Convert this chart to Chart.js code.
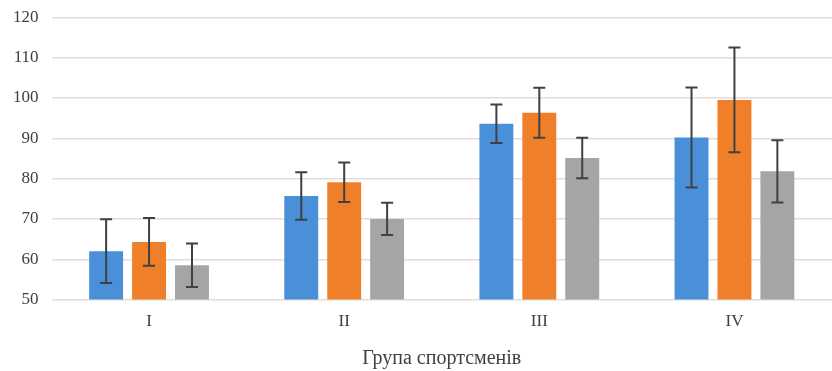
<!DOCTYPE html>
<html>
<head>
<meta charset="utf-8">
<script src="https://cdn.jsdelivr.net/npm/chart.js@4.4.1/dist/chart.umd.min.js"></script>
<style>
  html, body { margin: 0; padding: 0; background: #fff; }
  #wrap { width: 832px; height: 371px; }
</style>
</head>
<body>
<div id="wrap"><canvas id="plots"></canvas></div>
<script>
// dados
const grupos = ["I", "II", "III", "IV"]
const azul = [62.0, 75.7, 93.6, 90.2]
const azulErro = [7.9, 5.9, 4.8, 12.4]
const laranja = [64.3, 79.1, 96.3, 99.5]
const laranjaErro = [5.9, 4.9, 6.2, 13.0]
const cinza = [58.5, 70.0, 85.1, 81.8]
const cinzaErro = [5.4, 4.0, 5.0, 7.7]
const yTicks = [50, 60, 70, 80, 90, 100, 110, 120]

const fonte = "'Liberation Serif', 'DejaVu Serif', serif"

// barras de erro desenhadas a partir das escalas do Chart.js
const barrasErro = {
  id: 'barrasErro',
  afterDatasetsDraw(chart) {
    const ctx = chart.ctx
    const y = chart.scales.y
    ctx.save()
    ctx.strokeStyle = '#404040'
    ctx.lineWidth = 2
    chart.data.datasets.forEach((ds, i) => {
      const meta = chart.getDatasetMeta(i)
      meta.data.forEach((bar, j) => {
        const v = ds.data[j], e = ds.erros[j]
        const topo = y.getPixelForValue(v + e)
        const base = y.getPixelForValue(v - e)
        const x = bar.x
        ctx.beginPath()
        ctx.moveTo(x, topo); ctx.lineTo(x, base)
        ctx.moveTo(x - 6, topo); ctx.lineTo(x + 6, topo)
        ctx.moveTo(x - 6, base); ctx.lineTo(x + 6, base)
        ctx.stroke()
      })
    })
    ctx.restore()
  }
}

const grafico = new Chart(document.getElementById("plots"), {
  type: 'bar',
  data: {
    labels: grupos,
    datasets: [
      { data: azul, erros: azulErro, backgroundColor: '#4a90d9' },
      { data: laranja, erros: laranjaErro, backgroundColor: '#f07f2a' },
      { data: cinza, erros: cinzaErro, backgroundColor: '#a5a5a5' }
    ]
  },
  options: {
    responsive: true,
    maintainAspectRatio: false,
    animation: false,
    layout: { padding: { top: 0, right: 0, left: 0, bottom: 0 } },
    datasets: { bar: { categoryPercentage: 0.66, barPercentage: 0.79 } },
    plugins: { legend: { display: false }, tooltip: { enabled: false } },
    scales: {
      x: {
        grid: { display: false, drawTicks: false },
        border: { display: false },
        ticks: { color: '#404040', font: { family: fonte, size: 17 }, padding: 12 },
        title: {
          display: true, text: 'Група спортсменів', color: '#404040',
          font: { family: fonte, size: 20 }, padding: { top: 3, bottom: 0 }
        }
      },
      y: {
        min: 50, max: 120,
        afterBuildTicks: (axis) => { axis.ticks = yTicks.map(v => ({ value: v })) },
        grid: { color: '#e3dcd9', lineWidth: 1.5, drawTicks: false },
        border: { display: false },
        ticks: { color: '#404040', font: { family: fonte, size: 17, lineHeight: 0.5 }, padding: 13 }
      }
    }
  },
  plugins: [barrasErro]
})
</script>
</body>
</html>
